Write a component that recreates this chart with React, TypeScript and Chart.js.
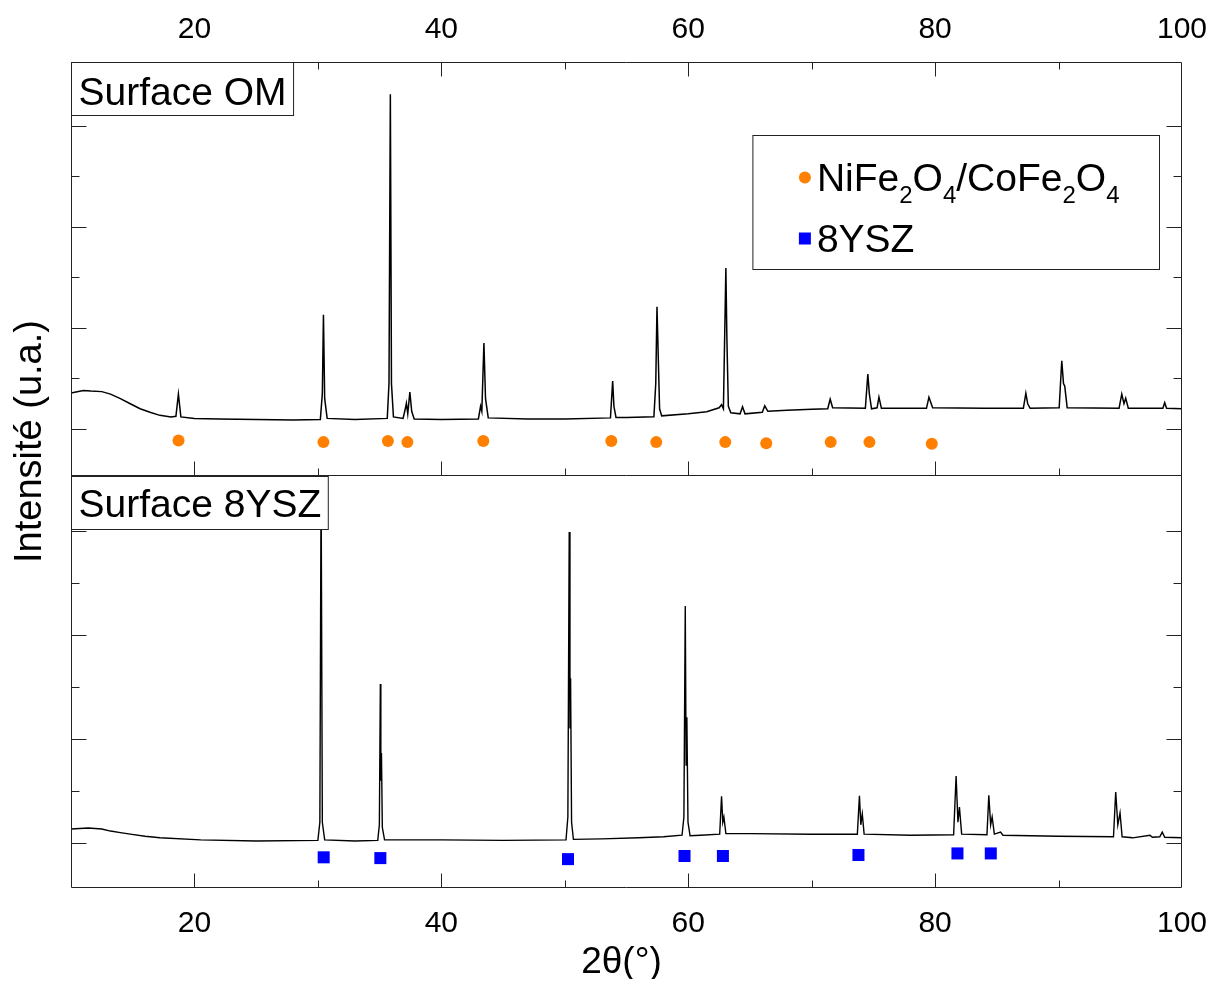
import React, { useEffect, useRef } from 'react';
import { Chart, registerables } from 'chart.js';

Chart.register(...registerables);

// ---------- data ----------
const X_MIN = 10;
const X_MAX = 100;

// Top pattern: Surface OM (2θ in degrees, intensity in arbitrary units)
const omTwoTheta = [
  10.0, 11.0, 11.6, 12.5, 13.2, 14.0, 14.8, 15.6, 16.4, 17.2, 18.1, 18.5, 18.7, 18.9,
  20.0, 22.0, 25.0, 28.0, 30.2, 30.36, 30.45, 30.55, 30.75, 33.0,
  35.62, 35.76, 35.87, 35.96, 36.12, 36.9, 37.1, 37.17, 37.28, 37.45, 37.6, 37.8,
  40.0, 43.0, 43.18, 43.28, 43.45, 43.58, 43.8, 47.0, 50.0,
  53.7, 53.88, 53.98, 54.15, 55.0, 57.22, 57.37, 57.47, 57.57, 57.68, 57.85,
  60.0, 61.5, 62.5, 62.7, 62.85, 63.05, 63.13, 63.25, 63.45, 64.2, 64.4, 64.6,
  66.0, 66.2, 66.45, 68.0, 70.0, 71.3, 71.5, 71.7, 74.35, 74.55, 74.67, 74.85,
  75.3, 75.45, 75.65, 79.3, 79.5, 79.8, 84.0, 87.15, 87.35, 87.5, 87.7,
  90.05, 90.26, 90.4, 90.5, 90.7, 94.9, 95.12, 95.3, 95.44, 95.65, 98.45, 98.6, 98.75, 100.0,
];
const omIntensity = [
  0.71, 0.76, 0.75, 0.74, 0.69, 0.6, 0.5, 0.4, 0.33, 0.27, 0.24, 0.25, 0.69, 0.24,
  0.21, 0.2, 0.19, 0.18, 0.19, 0.7, 2.26, 0.6, 0.21, 0.19,
  0.21, 0.9, 6.63, 0.9, 0.24, 0.21, 0.42, 0.51, 0.3, 0.73, 0.35, 0.2,
  0.19, 0.2, 0.45, 0.35, 1.7, 0.6, 0.22, 0.2, 0.2,
  0.22, 0.95, 0.45, 0.23, 0.23, 0.24, 0.9, 2.42, 1.45, 0.4, 0.26,
  0.3, 0.34, 0.42, 0.48, 0.4, 3.19, 1.82, 0.45, 0.32, 0.3, 0.44, 0.3,
  0.33, 0.46, 0.35, 0.37, 0.39, 0.4, 0.59, 0.42, 0.41, 1.09, 0.7, 0.4,
  0.42, 0.63, 0.41, 0.41, 0.63, 0.42, 0.41, 0.41, 0.71, 0.5, 0.41,
  0.42, 1.35, 0.9, 0.85, 0.42, 0.41, 0.69, 0.5, 0.61, 0.41, 0.41, 0.52, 0.41, 0.4,
];

// Bottom pattern: Surface 8YSZ
const yszTwoTheta = [
  10.0, 11.4, 12.5, 13.2, 14.0, 14.8, 16.0, 17.2, 20.5, 25.0,
  30.0, 30.16, 30.26, 30.36, 30.55, 33.0,
  34.85, 34.98, 35.06, 35.1, 35.15, 35.22, 35.4, 40.0, 45.0,
  50.1, 50.25, 50.36, 50.42, 50.47, 50.55, 50.7, 53.0, 56.0, 58.0,
  59.5, 59.65, 59.76, 59.83, 59.89, 59.98, 60.15, 61.0,
  62.55, 62.7, 62.8, 62.89, 63.05, 65.0, 70.0,
  73.7, 73.87, 73.98, 74.1, 74.25, 78.0,
  81.5, 81.7, 81.85, 81.97, 82.15, 84.2, 84.35, 84.5, 84.62, 84.8, 85.3, 85.5, 90.0,
  94.45, 94.63, 94.8, 94.98, 95.15, 96.0, 97.4, 97.6, 98.2, 98.4, 98.6, 100.0,
];
const yszIntensity = [
  0.27, 0.29, 0.27, 0.23, 0.2, 0.17, 0.13, 0.1, 0.06, 0.04,
  0.05, 0.4, 7.0, 0.4, 0.06, 0.04,
  0.05, 0.35, 3.06, 1.2, 1.73, 0.3, 0.06, 0.06, 0.05,
  0.06, 0.5, 5.98, 2.2, 3.17, 0.4, 0.07, 0.08, 0.1, 0.12,
  0.15, 0.5, 4.56, 1.5, 2.42, 0.4, 0.14, 0.15,
  0.17, 0.9, 0.4, 0.5, 0.18, 0.18, 0.17,
  0.17, 0.91, 0.35, 0.56, 0.17, 0.15,
  0.16, 1.29, 0.4, 0.69, 0.17, 0.16, 0.92, 0.35, 0.5, 0.17, 0.21, 0.15, 0.13,
  0.12, 0.98, 0.35, 0.58, 0.12, 0.1, 0.15, 0.11, 0.12, 0.21, 0.11, 0.1,
];

// Reference peak markers
const spinelPos = [18.71, 30.45, 35.67, 37.25, 43.4, 53.77, 57.41, 63.0, 66.32, 71.54, 74.68, 79.73];
const spinelMark = [-0.23, -0.26, -0.24, -0.26, -0.24, -0.24, -0.26, -0.26, -0.28, -0.26, -0.26, -0.29];
const yszRefPos = [30.47, 35.06, 50.26, 59.7, 62.81, 73.79, 81.81, 84.51];
const yszRefMark = [-0.275, -0.29, -0.31, -0.25, -0.25, -0.23, -0.2, -0.2];

const panelLabels = ['Surface OM', 'Surface 8YSZ'];
const legendLabels = ['NiFe₂O₄/CoFe₂O₄', '8YSZ'];
const xTitle = '2θ(°)';
const yTitle = 'Intensité (u.a.)';

const TOP_MIN = -0.911;
const TOP_MAX = 7.267;
const BOT_MIN = -0.865;
const BOT_MAX = 7.077;

// ---------- styling ----------
const FONT = "'Liberation Sans', Arial, Helvetica, sans-serif";
const ORANGE = '#ff8000';
const BLUE = '#0000ff';
const FRAME = '#222222';
const W = 1204;
const H = 971;

const SUBS = '₀₁₂₃₄₅₆₇₈₉';

function drawRich(ctx: CanvasRenderingContext2D, text: string, x: number, y: number, draw: boolean): number {
  const main = `39px ${FONT}`;
  const sub = `24px ${FONT}`;
  let cx = x;
  let run = '';
  let runSub = false;
  const flush = () => {
    if (!run) return;
    ctx.font = runSub ? sub : main;
    if (draw) ctx.fillText(run, cx, runSub ? y + 12 : y);
    cx += ctx.measureText(run).width;
    run = '';
  };
  for (const ch of text) {
    const i = SUBS.indexOf(ch);
    const isSub = i >= 0;
    if (isSub !== runSub) {
      flush();
      runSub = isSub;
    }
    run += isSub ? String(i) : ch;
  }
  flush();
  return cx - x;
}

const decorPlugin = {
  id: 'decor',
  afterDatasetsDraw(chart: any) {
    const ctx: CanvasRenderingContext2D = chart.ctx;
    const area = chart.chartArea;
    const xs = chart.scales.x;
    const yt = chart.scales.yTop;
    const yb = chart.scales.yBot;
    const L = area.left + 0.5;
    const R = Math.round(area.right) - 0.5;
    const T = area.top + 0.5;
    const B = Math.round(area.bottom) - 0.5;
    const S = Math.round(yt.bottom) + 0.5;

    ctx.save();
    ctx.strokeStyle = FRAME;
    ctx.fillStyle = '#000';
    ctx.lineWidth = 1;

    // frame and panel separator
    ctx.beginPath();
    ctx.rect(L, T, R - L, B - T);
    ctx.moveTo(L, S);
    ctx.lineTo(R, S);
    ctx.stroke();

    // x ticks (inward)
    ctx.beginPath();
    for (const t of xs.ticks) {
      const v = t.value;
      if (v <= X_MIN || v >= X_MAX) continue;
      const px = Math.round(xs.getPixelForValue(v)) + 0.5;
      const len = v % 20 === 0 ? 14 : 7;
      ctx.moveTo(px, B); ctx.lineTo(px, B - len);
      ctx.moveTo(px, T); ctx.lineTo(px, T + len);
      ctx.moveTo(px, S); ctx.lineTo(px, S - len);
    }
    // y ticks (inward, both sides)
    for (const s of [yt, yb]) {
      for (const t of s.ticks) {
        const v = t.value;
        if (!Number.isInteger(v)) continue;
        const py = Math.round(s.getPixelForValue(v)) + 0.5;
        if (py <= s.top + 2 || py >= s.bottom - 2) continue;
        const len = v % 2 === 0 ? 15 : 8;
        ctx.moveTo(L, py); ctx.lineTo(L + len, py);
        ctx.moveTo(R, py); ctx.lineTo(R - len, py);
      }
    }
    ctx.stroke();

    // x tick labels (top and bottom)
    ctx.font = `30px ${FONT}`;
    ctx.textAlign = 'center';
    ctx.textBaseline = 'alphabetic';
    for (const t of xs.ticks) {
      const v = t.value;
      if (v % 20 !== 0) continue;
      const px = xs.getPixelForValue(v);
      ctx.fillText(String(v), px, area.top - 24);
      ctx.fillText(String(v), px, area.bottom + 44);
    }

    // axis titles
    ctx.font = `37px ${FONT}`;
    ctx.textBaseline = 'alphabetic';
    ctx.fillText(xTitle, (area.left + area.right) / 2 - 5, area.bottom + 85);
    ctx.save();
    ctx.translate(23, S - 34);
    ctx.rotate(-Math.PI / 2);
    ctx.textBaseline = 'middle';
    ctx.font = `38px ${FONT}`;
    ctx.fillText(yTitle, 0, 0);
    ctx.restore();

    // panel labels
    ctx.textAlign = 'left';
    ctx.textBaseline = 'alphabetic';
    ctx.font = `39px ${FONT}`;
    const panels = [
      { text: panelLabels[0], top: T },
      { text: panelLabels[1], top: S + 1 },
    ];
    panels.forEach((p, i) => {
      const w = ctx.measureText(p.text).width + 14;
      const h = 53;
      ctx.fillStyle = '#fff';
      ctx.fillRect(L, p.top, w, h);
      ctx.strokeRect(L, p.top, w, h);
      ctx.fillStyle = '#000';
      ctx.fillText(p.text, L + 7, p.top + (i === 0 ? 42 : 40));
    });

    // legend
    const markerSets = chart.data.datasets.filter((d: any) => d.showLine === false);
    let maxW = 0;
    for (const d of markerSets) maxW = Math.max(maxW, drawRich(ctx, d.label, 0, 0, false));
    const boxR = R - 22;
    const boxT = T + 73;
    const textX = boxR - maxW - 40;
    const markX = textX - 12;
    const boxL = markX - 52;
    ctx.fillStyle = '#fff';
    ctx.fillRect(boxL, boxT, boxR - boxL, 134);
    ctx.strokeRect(boxL, boxT, boxR - boxL, 134);
    markerSets.forEach((d: any, i: number) => {
      const cy = boxT + 42 + i * 61;
      ctx.fillStyle = d.pointBackgroundColor;
      ctx.beginPath();
      if (d.pointStyle === 'rect') {
        ctx.rect(markX - 6, cy - 6, 12, 12);
      } else {
        ctx.arc(markX, cy, 6, 0, Math.PI * 2);
      }
      ctx.fill();
      ctx.fillStyle = '#000';
      drawRich(ctx, d.label, textX, cy + 13, true);
    });

    ctx.restore();
  },
};

export default function App() {
  const canvasRef = useRef<HTMLCanvasElement | null>(null);

  useEffect(() => {
    const canvas = canvasRef.current;
    if (!canvas) return;
    const toPts = (xs: number[], ys: number[]) => xs.map((x, i) => ({ x, y: ys[i] }));

    const chart = new Chart(canvas, {
      type: 'line',
      data: {
        datasets: [
          {
            label: panelLabels[0],
            data: toPts(omTwoTheta, omIntensity),
            xAxisID: 'x',
            yAxisID: 'yTop',
            borderColor: '#000',
            borderWidth: 1.5,
            pointRadius: 0,
            tension: 0,
          },
          {
            label: panelLabels[1],
            data: toPts(yszTwoTheta, yszIntensity),
            xAxisID: 'x',
            yAxisID: 'yBot',
            borderColor: '#000',
            borderWidth: 1.4,
            pointRadius: 0,
            tension: 0,
          },
          {
            label: legendLabels[0],
            data: toPts(spinelPos, spinelMark),
            xAxisID: 'x',
            yAxisID: 'yTop',
            showLine: false,
            pointStyle: 'circle',
            pointRadius: 6,
            pointBorderWidth: 0,
            pointBackgroundColor: ORANGE,
            borderColor: ORANGE,
            backgroundColor: ORANGE,
          },
          {
            label: legendLabels[1],
            data: toPts(yszRefPos, yszRefMark),
            xAxisID: 'x',
            yAxisID: 'yBot',
            showLine: false,
            pointStyle: 'rect',
            pointRadius: 8.5,
            pointBorderWidth: 0,
            pointBackgroundColor: BLUE,
            borderColor: BLUE,
            backgroundColor: BLUE,
          },
        ],
      },
      options: {
        animation: false,
        responsive: false,
        events: [],
        layout: { padding: { left: 63, right: 30, top: 54, bottom: 91 } },
        plugins: { legend: { display: false }, tooltip: { enabled: false }, title: { display: false } },
        scales: {
          x: {
            type: 'linear',
            min: X_MIN,
            max: X_MAX,
            display: false,
            ticks: { stepSize: 10 },
          },
          yTop: {
            type: 'linear',
            position: 'left',
            stack: 'panels',
            stackWeight: 1,
            weight: 2,
            min: TOP_MIN,
            max: TOP_MAX,
            display: false,
            ticks: { stepSize: 1 },
          },
          yBot: {
            type: 'linear',
            position: 'left',
            stack: 'panels',
            stackWeight: 1,
            weight: 1,
            min: BOT_MIN,
            max: BOT_MAX,
            display: false,
            ticks: { stepSize: 1 },
          },
        },
      },
      plugins: [decorPlugin],
    } as any);

    return () => chart.destroy();
  }, []);

  return (
    <div style={{ width: W, height: H }}>
      <canvas ref={canvasRef} width={W} height={H} style={{ display: 'block' }} />
    </div>
  );
}
